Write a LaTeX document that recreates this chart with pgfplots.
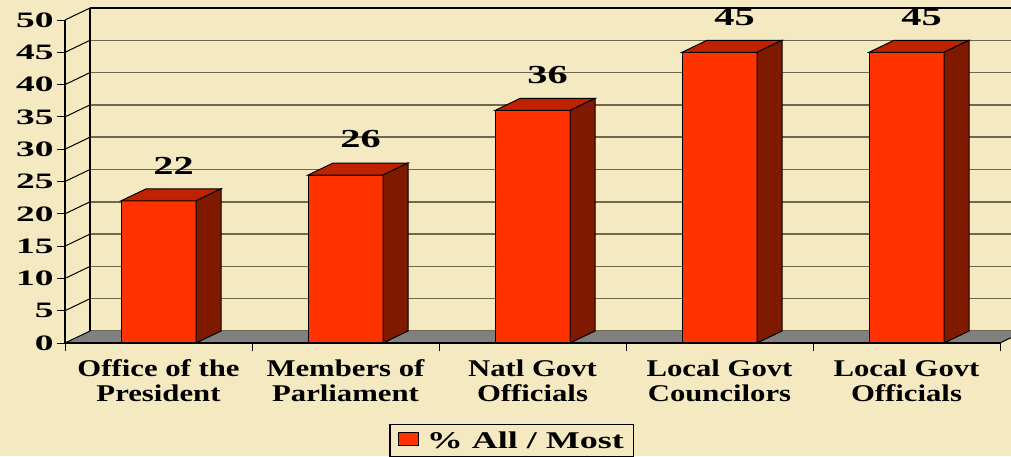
\documentclass[border=0pt]{standalone}
\usepackage{pgfplots}
\pgfplotsset{compat=1.18}
\usepackage{fontspec}
\setmainfont{Liberation Serif}
\newfontfamily\tickf[FakeStretch=1.7]{Liberation Serif}
\newfontfamily\catf[FakeStretch=1.28]{Liberation Serif}
\newfontfamily\valf[FakeStretch=1.55]{Liberation Serif}
\newfontfamily\legf[FakeStretch=1.5]{Liberation Serif}
\definecolor{bgc}{HTML}{F5E9C1}
\definecolor{frontc}{HTML}{FF3300}
\definecolor{topc}{HTML}{C02200}
\definecolor{sidec}{HTML}{7F1A00}
\definecolor{gridc}{HTML}{6E6A52}
\definecolor{floorc}{HTML}{808080}
\begin{document}
\begin{tikzpicture}
\fill[bgc] (0,0) rectangle (1011pt,456pt);
\path[use as bounding box] (0,0) rectangle (1011pt,456pt);
\clip (0,0) rectangle (1011pt,456pt);
% back wall
\begin{axis}[at={(90pt,125pt)}, anchor=south west, scale only axis,
  width=935pt, height=323pt, xmin=0, xmax=5, ymin=0, ymax=50,
  axis x line*=top, axis y line*=left, xtick=\empty, ytick={0,5,...,50},
  yticklabels={}, major tick length=0pt, ymajorgrids,
  grid style={draw=gridc, line width=1.5pt},
  axis line style={black, line width=1.4pt}]
\addplot[draw=none] coordinates {(0,0) (5,50)};
\end{axis}
% front plane
\begin{axis}[at={(65pt,113pt)}, anchor=south west, scale only axis,
  width=935pt, height=323pt, xmin=0, xmax=5, ymin=0, ymax=50,
  clip=false, axis on top,
  axis x line*=bottom, axis y line*=left,
  xtick={0,1,...,5}, xticklabels={},
  extra x ticks={0.5,1.5,2.5,3.5,4.5},
  extra x tick labels={Office of the\\President, Members of\\Parliament, Natl Govt\\Officials, Local Govt\\Councilors, Local Govt\\Officials},
  extra x tick style={major tick length=0pt, tick label style={align=center, font=\catf\bfseries\fontsize{24}{25}\selectfont, yshift=-13pt}},
  ytick={0,5,...,50},
  /pgf/number format/assume math mode=true,
  yticklabel style={font=\tickf\bfseries\fontsize{22}{24}\selectfont},
  tick align=outside, major tick length=8pt,
  tick style={black, line width=1pt},
  axis line style={black, line width=1.4pt},
  legend style={at={(0.478,-0.25)}, anchor=north, draw=black, line width=1.2pt,
    fill=bgc, font=\legf\bfseries\fontsize{24}{26}\selectfont, inner xsep=8pt, inner ysep=5pt,
    /tikz/every odd column/.append style={column sep=6pt}},
  legend image code/.code={\draw[fill=frontc, draw=black, line width=0.8pt] (0pt,-5pt) rectangle (20pt,8pt);}
  ]
\fill[floorc] (axis cs:0,0) -- (axis cs:5,0) -- ([shift={(25pt,12pt)}]axis cs:5,0) -- ([shift={(25pt,12pt)}]axis cs:0,0) -- cycle;
\draw[black, line width=1pt] (axis cs:5,0) -- ++(25pt,12pt);
\pgfplotsinvokeforeach{0,5,...,50}{\draw[black, line width=1pt] (axis cs:0,#1) -- ++(25pt,12pt);}
\addplot[ybar, bar width=75pt, bar shift=0pt, fill=frontc, draw=black, line width=1pt,
  nodes near coords, every node near coord/.append style={anchor=south, xshift=15pt, yshift=23pt, font=\valf\bfseries\fontsize{26}{28}\selectfont, text=black}]
  coordinates {(0.5,22) (1.5,26) (2.5,36) (3.5,45) (4.5,45)};
\addlegendentry{\% All / Most}
\addplot[scatter, only marks, mark=text, text mark={}, forget plot,
  visualization depends on={rawy \as \ry},
  scatter/@pre marker code/.code={%
    \pgfmathsetmacro\hh{\ry*6.46}%
    \pgfmathsetmacro\hb{12-\ry*6.46}%
    \filldraw[fill=topc, draw=black, line width=1pt] (-37.5pt,0pt) -- (-12.5pt,12pt) -- (62.5pt,12pt) -- (37.5pt,0pt) -- cycle;
    \filldraw[fill=sidec, draw=black, line width=1pt] (37.5pt,0pt) -- (62.5pt,12pt) -- (62.5pt,\hb pt) -- (37.5pt,-\hh pt) -- cycle;
    \begin{scope}},
  scatter/@post marker code/.code={\end{scope}}]
  coordinates {(0.5,22) (1.5,26) (2.5,36) (3.5,45) (4.5,45)};
\end{axis}
\end{tikzpicture}
\end{document}
